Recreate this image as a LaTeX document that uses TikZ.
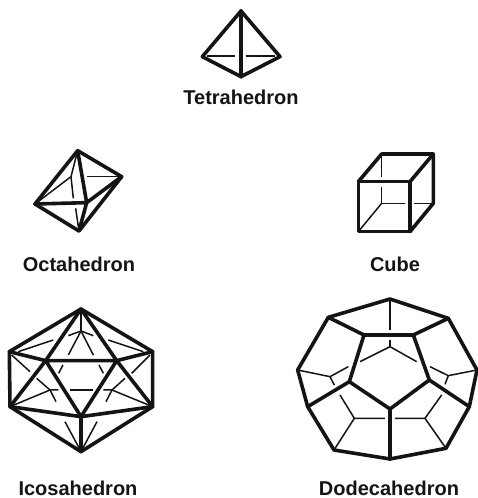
\documentclass[tikz,border=0pt]{standalone}
\usepackage{fontspec}
\setmainfont{Liberation Sans}
\usepackage{tikz}
\definecolor{inkblack}{RGB}{20,20,20}

\begin{document}
\begin{tikzpicture}[x=1pt, y=-1pt]
\tikzstyle{front} = [draw=inkblack, line width=3.6pt, line join=round, line cap=round]
\tikzstyle{back} = [draw=inkblack, line width=1.5pt]
\tikzstyle{solidname} = [text=inkblack, font=\fontsize{20}{20}\selectfont\bfseries, inner sep=0pt]
\useasboundingbox (0,0) rectangle (478,498);

\begin{scope}[shift={(180,0)}, scale=0.3333]
\draw [front] (183,33) -- (300,170) -- (183,230) -- (67,170) -- cycle;
\draw [front] (183,33) -- (183,230);
\draw [back] (80,168) -- (165,168);
\draw [back] (197,168) -- (285,168);
\end{scope}
\node (Tetrahedron) [solidname] at (241,97) {Tetrahedron};

\begin{scope}[shift={(10,130)}, scale=0.3333]
\draw [front] (203,62) -- (335,140) -- (207,303) -- (75,222) -- cycle;
\draw [front] (75,222) -- (230,218) -- (203,62);
\draw [front] (335,140) -- (230,218) -- (207,303);
\draw [back] (203,62) -- (183,140) -- (75,222);
\draw [back] (183,140) -- (190,205);
\draw [back] (197,235) -- (207,303);
\draw [back] (230,140) -- (335,140);
\end{scope}
\node (Octahedron) [solidname] at (79,264.5) {Octahedron};

\begin{scope}[shift={(340,140)}, scale=0.3333]
\draw [front] (55,125) rectangle (210,275);
\draw [front] (55,125) -- (125,42) -- (280,42) -- (280,190) -- (210,275);
\draw [front] (210,125) -- (280,42);
\draw [back] (125,42) -- (125,110);
\draw [back] (125,140) -- (125,190) -- (195,190);
\draw [back] (222,190) -- (280,190);
\draw [back] (125,190) -- (55,275);
\end{scope}
\node (Cube) [solidname] at (395,264.5) {Cube};

\begin{scope}[shift={(0,295)}, scale=0.3333]
\draw [front] (243,42) -- (458,170) -- (458,335) -- (243,470) -- (30,335) -- (28,170) -- cycle;
\draw [front] (137,197) -- (350,197) -- (243,365) -- cycle;
\draw [front] (243,42) -- (137,197) -- (28,170);
\draw [front] (243,42) -- (350,197) -- (458,170);
\draw [front] (137,197) -- (30,335) -- (243,365) -- (458,335) -- (350,197);
\draw [front] (243,365) -- (243,470);
\draw [back] (243,42) -- (243,108);
\draw [back] (205,122) -- (243,108) -- (280,122);
\draw [back] (55,170) -- (160,135);
\draw [back] (325,135) -- (430,170);
\draw [back] (205,180) -- (243,108) -- (280,180);
\draw [back] (189,210) -- (176,235);
\draw [back] (297,210) -- (310,235);
\draw [back] (35,180) -- (90,230);
\draw [back] (110,250) -- (150,285) -- (168,320);
\draw [back] (450,180) -- (395,235);
\draw [back] (375,250) -- (336,285) -- (318,320);
\draw [back] (30,335) -- (150,285) -- (175,285);
\draw [back] (458,335) -- (336,285) -- (310,285);
\draw [back] (210,285) -- (278,285);
\draw [back] (195,380) -- (243,470) -- (291,380);
\end{scope}
\node (Icosahedron) [solidname] at (78,488) {Icosahedron};

\begin{scope}[shift={(285,285)}, scale=0.3333]
\draw [front] (315,42) -- (490,100) -- (576,255) -- (553,365) -- (483,490) -- (315,522) -- (147,495) -- (68,365) -- (38,255) -- (130,97) -- cycle;
\draw [front] (237,150) -- (385,150) -- (433,285) -- (315,372) -- (193,290) -- cycle;
\draw [front] (130,97) -- (237,150);
\draw [front] (490,100) -- (385,150);
\draw [front] (193,290) -- (68,365);
\draw [front] (433,285) -- (553,365);
\draw [front] (315,372) -- (315,522);
\draw [back] (315,42) -- (315,135);
\draw [back] (315,165) -- (315,185);
\draw [back] (225,230) -- (315,185) -- (395,230);
\draw [back] (190,245) -- (135,275) -- (38,255);
\draw [back] (135,275) -- (148,300);
\draw [back] (165,330) -- (208,400) -- (300,400);
\draw [back] (147,495) -- (208,400);
\draw [back] (330,400) -- (420,400) -- (470,330);
\draw [back] (420,400) -- (483,490);
\draw [back] (435,245) -- (490,272) -- (576,255);
\draw [back] (490,272) -- (480,298);
\end{scope}
\node (Dodecahedron) [solidname] at (389,488) {Dodecahedron};
\end{tikzpicture}
\end{document}
